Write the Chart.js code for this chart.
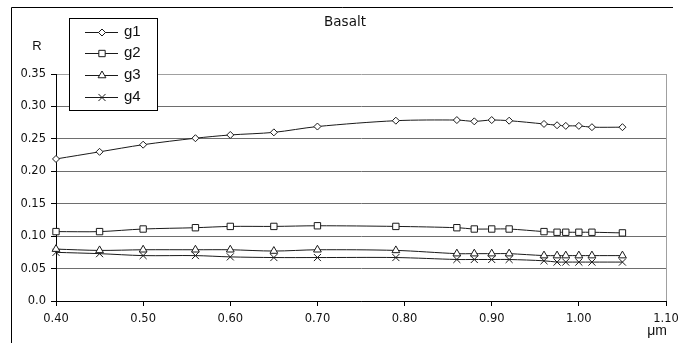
<!DOCTYPE html>
<html>
<head>
<meta charset="utf-8">
<title>Basalt</title>
<script src="https://cdn.jsdelivr.net/npm/chart.js"></script>
<style>
  body { margin: 0; background: #fff; }
  canvas { display: block; }
</style>
</head>
<body>
<canvas id="chart" width="679" height="343"></canvas>
<script>
// longitudes de onda (µm)
const wavelengths = [0.40, 0.45, 0.50, 0.56, 0.60, 0.65, 0.70, 0.79, 0.86, 0.88, 0.90, 0.92, 0.96, 0.975, 0.985, 1.00, 1.015, 1.05];

const g1 = [0.219, 0.230, 0.241, 0.251, 0.256, 0.260, 0.269, 0.278, 0.279, 0.277, 0.279, 0.278, 0.273, 0.271, 0.270, 0.270, 0.268, 0.268];
const g2 = [0.107, 0.107, 0.111, 0.113, 0.115, 0.115, 0.116, 0.115, 0.113, 0.111, 0.111, 0.111, 0.107, 0.106, 0.106, 0.106, 0.106, 0.105];
const g3 = [0.080, 0.078, 0.079, 0.079, 0.079, 0.077, 0.079, 0.078, 0.073, 0.073, 0.073, 0.073, 0.070, 0.070, 0.070, 0.070, 0.070, 0.070];
const g4 = [0.075, 0.073, 0.070, 0.070, 0.068, 0.067, 0.067, 0.067, 0.064, 0.064, 0.064, 0.064, 0.062, 0.060, 0.060, 0.060, 0.060, 0.060];

const seriesNames = ['g1', 'g2', 'g3', 'g4'];
const seriesValues = [g1, g2, g3, g4];
const markers = [
  { style: 'rectRot', radius: 3.5 },
  { style: 'rect', radius: 4.5 },
  { style: 'triangle', radius: 4.5 },
  { style: 'crossRot', radius: 5 }
];

const FONT = '"DejaVu Sans", "Liberation Sans", sans-serif';
const FONT_LEG = '"Liberation Sans", Arial, sans-serif';

const datasets = seriesNames.map((name, i) => ({
  label: name,
  data: wavelengths.map((x, j) => ({ x: x, y: seriesValues[i][j] })),
  borderColor: '#1a1a1a',
  borderWidth: 1,
  backgroundColor: '#fff',
  tension: 0.3,
  clip: false,
  pointStyle: markers[i].style,
  pointRadius: markers[i].radius,
  pointBorderColor: '#1a1a1a',
  pointBackgroundColor: '#fff',
  pointBorderWidth: 1
}));

// marco, título, rótulos de ejes y leyenda
const decorations = {
  id: 'decorations',
  afterDraw(chart) {
    const ctx = chart.ctx;
    ctx.save();
    ctx.strokeStyle = '#000';
    ctx.lineWidth = 1;
    ctx.beginPath();
    ctx.moveTo(11.5, 343);
    ctx.lineTo(11.5, 7.5);
    ctx.lineTo(673, 7.5);
    ctx.stroke();

    ctx.fillStyle = '#111';
    ctx.textBaseline = 'middle';
    ctx.textAlign = 'center';
    ctx.font = '13.5px ' + FONT;
    ctx.fillText('Basalt', 345, 22);
    ctx.font = '13px ' + FONT_LEG;
    ctx.fillText('R', 37, 46);
    ctx.font = '14px ' + FONT_LEG;
    ctx.fillText('\u03bcm', 657, 331);

    // leyenda
    const lx = 69.5, ly = 18.5, lw = 88, lh = 92;
    ctx.fillStyle = '#fff';
    ctx.fillRect(lx, ly, lw, lh);
    ctx.strokeStyle = '#000';
    ctx.strokeRect(lx, ly, lw, lh);
    const rows = [32, 53, 75, 97];
    chart.data.datasets.forEach((ds, i) => {
      const y = rows[i] + 0.5;
      ctx.strokeStyle = '#1a1a1a';
      ctx.beginPath();
      ctx.moveTo(85, y);
      ctx.lineTo(118, y);
      ctx.stroke();
      ctx.fillStyle = '#fff';
      Chart.helpers.drawPoint(ctx, {
        pointStyle: ds.pointStyle,
        radius: ds.pointRadius,
        rotation: 0,
        borderWidth: 1
      }, 102, y);
      ctx.fillStyle = '#111';
      ctx.textAlign = 'left';
      ctx.font = '15px ' + FONT_LEG;
      ctx.fillText(ds.label, 124, rows[i]);
    });
    ctx.restore();
  }
};

const ctx = document.getElementById('chart').getContext('2d');
new Chart(ctx, {
  type: 'line',
  data: { datasets: datasets },
  options: {
    responsive: false,
    animation: false,
    layout: { padding: { top: 74, right: 13, left: 0, bottom: 0 } },
    plugins: {
      legend: { display: false },
      title: { display: false },
      tooltip: { enabled: false }
    },
    scales: {
      x: {
        type: 'linear',
        min: 0.4,
        max: 1.1,
        ticks: {
          stepSize: 0.1,
          color: '#111',
          font: { family: FONT, size: 11.5 },
          padding: 6,
          maxRotation: 0,
          callback: v => v.toFixed(2)
        },
        grid: {
          color: c => (c.index === 7 ? '#a0a0a0' : 'rgba(0,0,0,0)'),
          tickColor: '#000',
          tickLength: 5
        },
        border: { color: '#000' },
        afterFit: s => {
          s.height = 42;
          s.paddingLeft = 0;
          s.paddingRight = 0;
        }
      },
      y: {
        min: 0,
        max: 0.35,
        ticks: {
          stepSize: 0.05,
          color: '#111',
          font: { family: FONT, size: 11.5 },
          padding: 5,
          callback: v => (v === 0 ? '0.0' : v.toFixed(2))
        },
        grid: {
          color: c => (c.index === 7 ? '#a0a0a0' : '#6e6e6e'),
          tickColor: '#000',
          tickLength: 5
        },
        border: { color: '#000' },
        afterFit: s => {
          s.width = 56;
          s.paddingTop = 0;
          s.paddingBottom = 0;
        }
      }
    }
  },
  plugins: [decorations]
});
</script>
</body>
</html>
